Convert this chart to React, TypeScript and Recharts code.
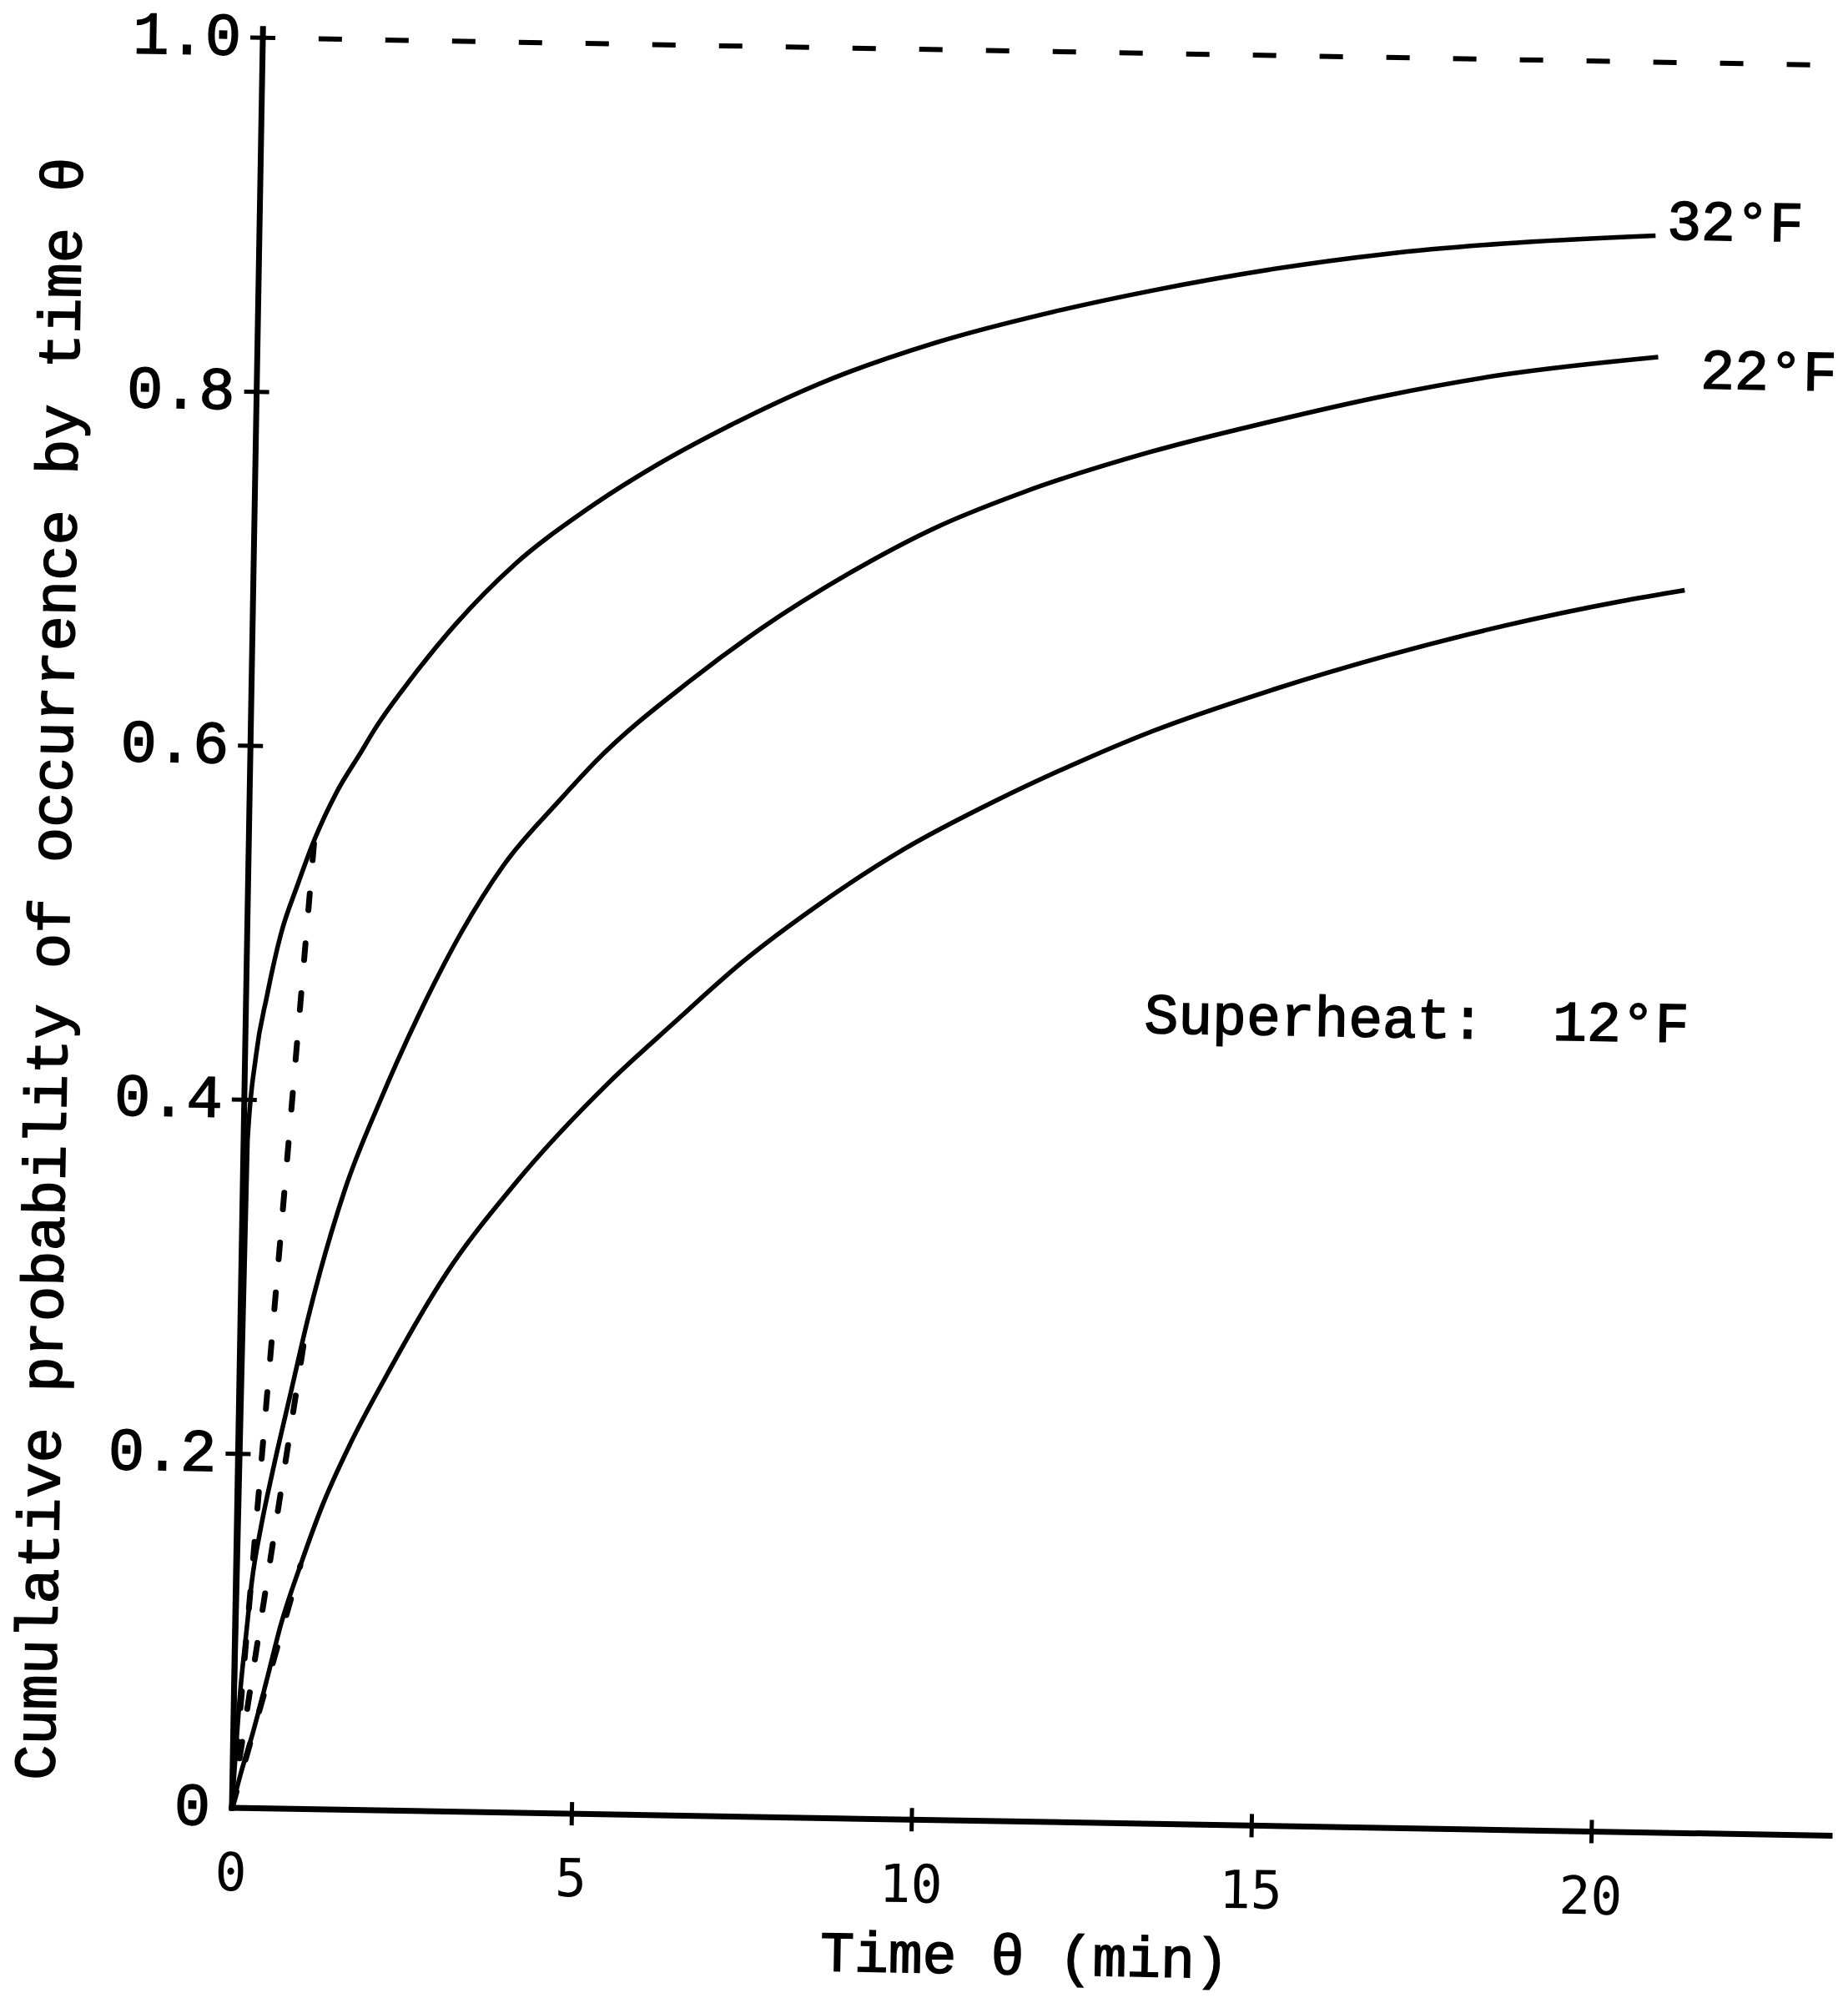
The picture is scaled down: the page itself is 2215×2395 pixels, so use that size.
import { LineChart, Line, XAxis, YAxis, ReferenceLine } from 'recharts'

// time in minutes, cumulative probability of occurrence
const time32 = [0, 0.058, 0.159, 0.307, 0.496, 0.729, 0.963, 1.277, 1.634, 1.814, 2.317, 2.992, 3.837, 4.856, 5.876, 6.986, 8.266, 9.977, 11.69, 13.14, 14.86, 16.57, 18.29, 20.53]
const prob32 = [0, 0.377, 0.4245, 0.459, 0.494, 0.522, 0.5475, 0.5745, 0.598, 0.61, 0.638, 0.671, 0.705, 0.736, 0.762, 0.786, 0.81, 0.8345, 0.853, 0.866, 0.879, 0.889, 0.896, 0.902]

const time22 = [0, 0.093, 0.164, 0.232, 0.36, 0.51, 0.775, 0.98, 1.5, 2.011, 2.56, 3.153, 3.752, 4.553, 5.09, 6.447, 7.468, 8.745, 10.02, 11.31, 13.17, 14.9, 16.61, 18.33, 20.6]
const prob22 = [0, 0.066, 0.098, 0.127, 0.16, 0.19, 0.238, 0.275, 0.35, 0.402, 0.451, 0.497, 0.535, 0.572, 0.595, 0.641, 0.671, 0.703, 0.73, 0.751, 0.775, 0.793, 0.809, 0.822, 0.8335]

const time12 = [0, 0.118, 0.291, 0.482, 0.673, 0.944, 1.256, 1.65, 2.125, 3.0, 3.996, 5.348, 6.278, 7.296, 8.4, 9.676, 10.956, 12.24, 13.25, 14.96, 16.68, 18.39, 20.1, 21.05]
const prob12 = [0, 0.019, 0.043, 0.073, 0.104, 0.1375, 0.172, 0.207, 0.243, 0.303, 0.355, 0.413, 0.447, 0.483, 0.516, 0.549, 0.576, 0.6, 0.617, 0.641, 0.662, 0.68, 0.695, 0.702]

// dashed chords from the origin to each curve near one minute
const chordTime = [0.963, 0.98, 0.944]
const chordProb = [0.5475, 0.275, 0.1375]

const xTicks = [0, 5, 10, 15, 20]
const xTickLabels = ['0', '5', '10', '15', '20']
const yTicks = [0, 0.2, 0.4, 0.6, 0.8, 1.0]
const yTickLabels = ['0', '0.2', '0.4', '0.6', '0.8', '1.0']

const TYPE = "'Liberation Mono', 'Courier New', monospace"
const INK = '#000'

const X_TICK = 14
const X_MARGIN = 60
const Y_TICK = 15
const Y_MARGIN = 11

const toPoints = (t: number[], p: number[]) => t.map((v, i) => ({ t: v, p: p[i] }))

// typewriter text sits between regular and bold, so thicken the regular face a little
const typed = { fontFamily: TYPE, fill: INK, stroke: INK, strokeWidth: 1.6 }

function XTick(props: any) {
  const { x, y, payload } = props
  const axisY = y - X_TICK - X_MARGIN
  const label = xTickLabels[xTicks.indexOf(payload.value)]
  return (
    <g>
      {payload.value !== 0 && (
        <line x1={x} x2={x} y1={axisY - 14} y2={axisY + 14} stroke={INK} strokeWidth={5} />
      )}
      <text x={x} y={axisY + 99} textAnchor="middle" fontFamily="'DejaVu Sans Mono', monospace" fontSize={63} fill={INK}>
        {label}
      </text>
    </g>
  )
}

function YTick(props: any) {
  const { x, y, payload } = props
  const axisX = x + Y_TICK + Y_MARGIN
  const label = yTickLabels[yTicks.indexOf(payload.value)]
  return (
    <g>
      {payload.value !== 0 && (
        <line x1={axisX - 15} x2={axisX + 15} y1={y} y2={y} stroke={INK} strokeWidth={5} />
      )}
      <text x={x} y={y + 21} textAnchor="end" fontSize={72} {...typed}>
        {label}
      </text>
    </g>
  )
}

export default function App() {
  const curves = [toPoints(time32, prob32), toPoints(time22, prob22), toPoints(time12, prob12)]
  const chords = chordTime.map((t, i) => [{ t: 0, p: 0 }, { t, p: chordProb[i] }])

  return (
    <div style={{ position: 'absolute', left: 0, top: 0, width: 2215, height: 2395, overflow: 'hidden', background: '#fff' }}>
      <div
        style={{
          position: 'absolute',
          left: 0,
          top: 0,
          width: 2215,
          height: 2395,
          transform: 'rotate(1deg)',
          transformOrigin: '278px 2167px',
        }}
      >
        <LineChart width={2215} height={2395} margin={{ top: 34.4, right: 21.75, bottom: 108, left: 78 }}>
          <XAxis
            dataKey="t"
            type="number"
            domain={[0, 23.5]}
            ticks={xTicks}
            interval={0}
            height={120}
            tickSize={X_TICK}
            tickMargin={X_MARGIN}
            tickLine={false}
            tick={<XTick />}
            axisLine={{ stroke: INK, strokeWidth: 7, strokeLinecap: 'square' }}
          />
          <YAxis
            dataKey="p"
            type="number"
            domain={[0, 1.005]}
            ticks={yTicks}
            interval={0}
            width={200}
            tickSize={Y_TICK}
            tickMargin={Y_MARGIN}
            tickLine={false}
            tick={<YTick />}
            axisLine={{ stroke: INK, strokeWidth: 7, strokeLinecap: 'square' }}
          />
          <ReferenceLine
            segment={[{ x: 0.82, y: 1 }, { x: 24.6, y: 1 }]}
            ifOverflow="visible"
            stroke={INK}
            strokeWidth={6}
            strokeDasharray="28 52"
          />
          {chords.map((d, i) => (
            <Line
              key={`chord-${i}`}
              data={d}
              dataKey="p"
              type="linear"
              stroke={INK}
              strokeWidth={7}
              strokeDasharray="20 40"
              strokeLinecap="round"
              dot={false}
              activeDot={false}
              isAnimationActive={false}
            />
          ))}
          {curves.map((d, i) => (
            <Line
              key={`curve-${i}`}
              data={d}
              dataKey="p"
              type="monotone"
              stroke={INK}
              strokeWidth={5.5}
              dot={false}
              activeDot={false}
              isAnimationActive={false}
            />
          ))}
        </LineChart>
        <svg
          width={2215}
          height={2395}
          style={{ position: 'absolute', left: 0, top: 0, pointerEvents: 'none' }}
        >
          <text x={2046.6} y={257} textAnchor="middle" fontSize={68} {...typed}>32°F</text>
          <text x={2089.7} y={435} textAnchor="middle" fontSize={68} {...typed}>22°F</text>
          <text x={1681.3} y={1219} textAnchor="middle" fontSize={68} style={{ whiteSpace: 'pre' }} {...typed}>
            {'Superheat:  12°F'}
          </text>
          <text x={1231} y={2350} textAnchor="middle" fontSize={68} {...typed}>Time θ (min)</text>
          <text
            x={64.5}
            y={1165}
            textAnchor="middle"
            transform="rotate(-90 64.5 1165)"
            fontSize={70.5}
            {...typed}
          >
            Cumulative probability of occurrence by time θ
          </text>
        </svg>
      </div>
    </div>
  )
}
